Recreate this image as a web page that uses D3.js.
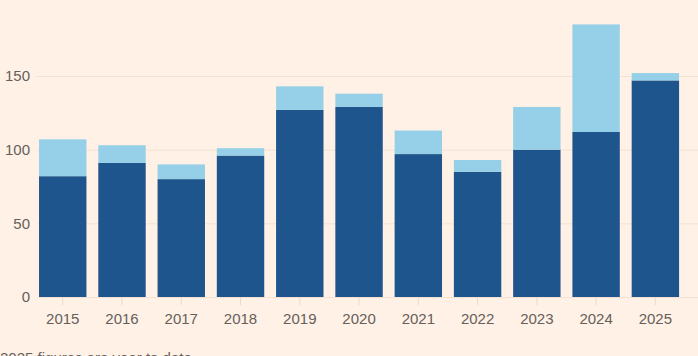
<!DOCTYPE html>
<html>
<head>
<meta charset="utf-8">
<script src="https://cdn.jsdelivr.net/npm/d3@7"></script>
<style>
  html, body { margin: 0; padding: 0; background: #fff1e5; overflow: hidden; }
  svg { display: block; }
  text { font-family: "Liberation Sans", Arial, sans-serif; }
</style>
</head>
<body>
<svg id="chart" width="698" height="356"></svg>
<script>
const years = ["2015","2016","2017","2018","2019","2020","2021","2022","2023","2024","2025"];
const baseValues = [82, 91, 80, 96, 127, 129, 97, 85, 100, 112, 147];
const extraValues = [25, 12, 10, 5, 16, 9, 16, 8, 29, 73, 5];
const yTicks = [0, 50, 100, 150];
const footnote = "2025 figures are year to date";

const colors = { base: "#1e558c", extra: "#96d0e8" };

const W = 698, H = 356;
const svg = d3.select("#chart");
svg.append("rect").attr("width", W).attr("height", H).attr("fill", "#fff1e5");

const x = d3.scaleBand().domain(years).range([33.1, 685]).paddingInner(0.2).paddingOuter(0.1);
const y = d3.scaleLinear().domain([0, 150]).range([297, 76]);

// gridlines
const grid = d3.axisLeft(y).tickValues(yTicks).tickSize(-(W - 37)).tickFormat("");
svg.append("g").attr("transform", "translate(37,0)").call(grid)
  .call(g => g.select(".domain").remove())
  .call(g => g.selectAll("line").attr("stroke", "#f3e2d3").attr("stroke-width", 1));

// y labels
const yAxis = d3.axisLeft(y).tickValues(yTicks).tickSize(0).tickPadding(0);
svg.append("g").attr("transform", "translate(30,0)").call(yAxis)
  .call(g => g.select(".domain").remove())
  .call(g => g.selectAll("text").attr("fill", "#66605c").attr("font-size", "15px")
    .attr("font-family", "Liberation Sans, Arial, sans-serif"));

// x axis
const xAxis = d3.axisBottom(x).tickSize(8).tickPadding(8);
svg.append("g").attr("transform", "translate(0,297)").call(xAxis)
  .call(g => g.select(".domain").remove())
  .call(g => g.selectAll("line").attr("stroke", "#e9dbcf"))
  .call(g => g.selectAll("text").attr("fill", "#66605c").attr("font-size", "15px")
    .attr("font-family", "Liberation Sans, Arial, sans-serif"));

// stacked bars
const data = years.map((yr, i) => ({ year: yr, base: baseValues[i], extra: extraValues[i] }));
const stack = d3.stack().keys(["base", "extra"])(data);

svg.append("g").selectAll("g").data(stack).join("g")
  .attr("fill", d => colors[d.key])
  .selectAll("rect").data(d => d).join("rect")
  .attr("x", d => x(d.data.year))
  .attr("width", x.bandwidth())
  .attr("y", d => y(d[1]))
  .attr("height", d => y(d[0]) - y(d[1]));

// footnote
svg.append("text").attr("x", 0).attr("y", 363)
  .attr("fill", "#66605c").attr("font-size", "15px")
  .text(footnote);
</script>
</body>
</html>
